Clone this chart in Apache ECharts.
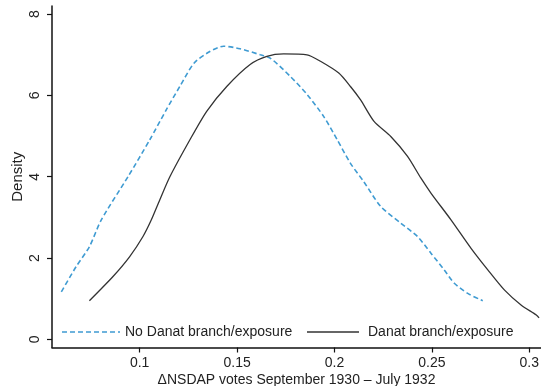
<!DOCTYPE html>
<html>
<head>
<meta charset="utf-8">
<script src="https://cdn.jsdelivr.net/npm/echarts@6/dist/echarts.min.js"></script>
<style>html,body{margin:0;padding:0;background:#fff}#c{width:541px;height:386px}</style>
</head>
<body>
<div id="c"></div>
<script>
var xTicks = [0.1, 0.15, 0.2, 0.25, 0.3];
var yTicks = [0, 2, 4, 6, 8];
var noDanat = [[0.0598,1.17],[0.0674,1.79],[0.0742,2.28],[0.0803,2.94],[0.094,4.0],[0.1052,4.91],[0.1137,5.65],[0.1206,6.22],[0.128,6.80],[0.136,7.08],[0.143,7.21],[0.1515,7.15],[0.1619,7.0],[0.167,6.92],[0.1773,6.47],[0.186,6.02],[0.1945,5.48],[0.2014,4.91],[0.2082,4.33],[0.215,3.88],[0.2237,3.27],[0.234,2.86],[0.2426,2.53],[0.2495,2.12],[0.2563,1.71],[0.2615,1.38],[0.2684,1.13],[0.2761,0.95]];
var danat = [[0.0742,0.95],[0.0862,1.54],[0.0948,2.03],[0.1017,2.53],[0.106,2.94],[0.1103,3.43],[0.1155,4.0],[0.1258,4.91],[0.1344,5.61],[0.1447,6.22],[0.1567,6.76],[0.1653,6.96],[0.1739,7.02],[0.1859,7.0],[0.1928,6.84],[0.2022,6.55],[0.2082,6.22],[0.2134,5.89],[0.2203,5.36],[0.2289,4.99],[0.2375,4.50],[0.2443,3.97],[0.2495,3.60],[0.2598,2.94],[0.2701,2.24],[0.2787,1.71],[0.2873,1.21],[0.2959,0.84],[0.3036,0.60],[0.305,0.53]];
var seriesNames = ['No Danat branch/exposure', 'Danat branch/exposure'];

var font = 'Liberation Sans, Arial, Helvetica, sans-serif';
var blue = '#3f9bd2';
var dashIcon = 'path://M0,0h5v1.5h-5zM8,0h5v1.5h-5zM16,0h5v1.5h-5zM24,0h5v1.5h-5zM32,0h5v1.5h-5zM40,0h5v1.5h-5zM48,0h5v1.5h-5zM56,0h2v1.5h-2z';
var solidIcon = 'path://M0,0h52v1.3h-52z';
var chart = echarts.init(document.getElementById('c'));
chart.setOption({
  animation: false,
  backgroundColor: '#fff',
  grid: {left: 52, right: 0, top: 6, bottom: 38.5, outerBoundsMode: 'none', containLabel: false},
  legend: [
    {left: 62, top: 325, padding: 0, itemWidth: 58, itemHeight: 1.5, itemGap: 0, symbolKeepAspect: false,
     textStyle: {fontFamily: font, fontSize: 14, color: '#222'},
     data: [{name: seriesNames[0], icon: dashIcon, itemStyle: {color: blue}}]},
    {left: 307, top: 325, padding: 0, itemWidth: 52, itemHeight: 1.3, itemGap: 0, symbolKeepAspect: false,
     textStyle: {fontFamily: font, fontSize: 14, color: '#222', padding: [0, 0, 0, 4]},
     data: [{name: seriesNames[1], icon: solidIcon, itemStyle: {color: '#333'}}]}
  ],
  xAxis: {
    type: 'value', min: 0.055, max: 0.306,
    name: '\u0394NSDAP votes September 1930 \u2013 July 1932',
    nameLocation: 'middle', nameGap: 26, nameMoveOverlap: false,
    nameTextStyle: {fontFamily: font, fontSize: 14, color: '#222'},
    axisLine: {show: true, onZero: false, lineStyle: {color: '#111', width: 1.5}},
    axisTick: {show: true, length: 5, lineStyle: {color: '#111', width: 1.2}, customValues: xTicks},
    axisLabel: {fontFamily: font, fontSize: 14, color: '#222', margin: 9, customValues: xTicks,
      formatter: function(v){return String(v);}},
    splitLine: {show: false}
  },
  yAxis: {
    type: 'value', min: -0.2, max: 8.2,
    name: 'Density', nameLocation: 'middle', nameGap: 27, nameMoveOverlap: false,
    nameTextStyle: {fontFamily: font, fontSize: 15, color: '#222'},
    axisLine: {show: true, onZero: false, lineStyle: {color: '#111', width: 1.5}},
    axisTick: {show: true, length: 5, lineStyle: {color: '#111', width: 1.2}, customValues: yTicks},
    axisLabel: {fontFamily: font, fontSize: 14, color: '#222', margin: 10, rotate: 90, customValues: yTicks},
    splitLine: {show: false}
  },
  series: [
    {name: seriesNames[0], type: 'line', data: noDanat, symbol: 'none', smooth: 0.25,
     lineStyle: {color: blue, width: 1.6, type: [5, 3]}, itemStyle: {color: blue}},
    {name: seriesNames[1], type: 'line', data: danat, symbol: 'none', smooth: 0.25,
     lineStyle: {color: '#333', width: 1.3}, itemStyle: {color: '#333'}}
  ]
});
</script>
</body>
</html>
